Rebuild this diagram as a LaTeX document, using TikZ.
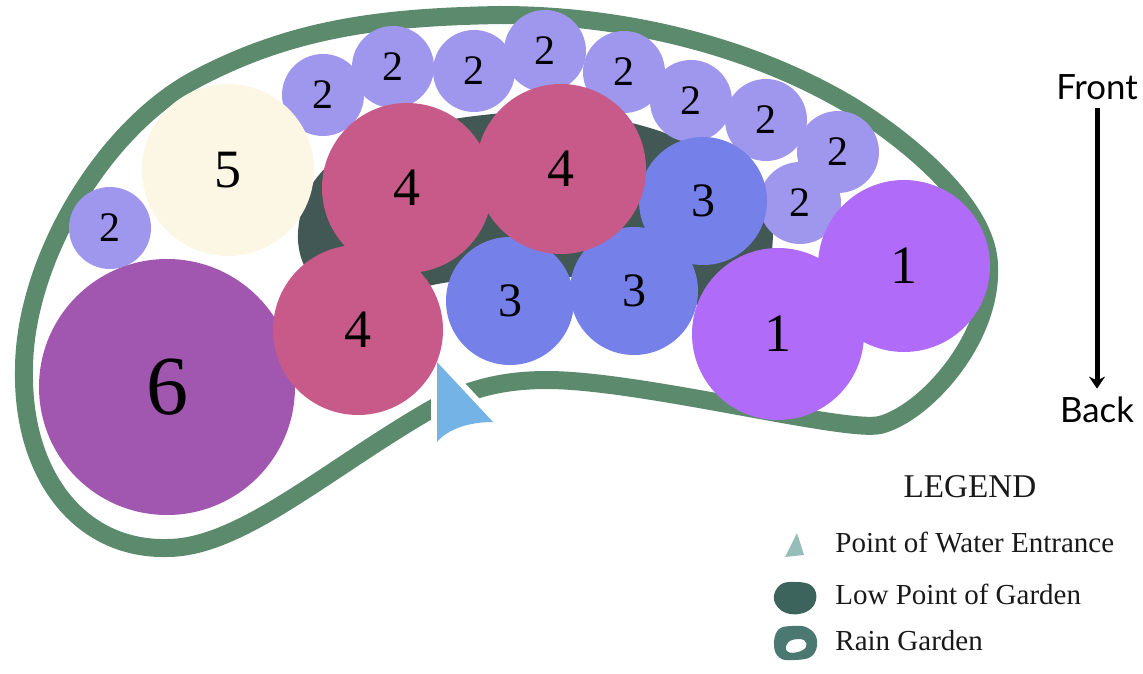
\documentclass[tikz,border=0pt]{standalone}
\usepackage{fontspec}
\setmainfont{Liberation Serif}
\newfontfamily\arrowfont{Lato}
\usetikzlibrary{arrows.meta}

\definecolor{rim}{RGB}{91,139,108}
\definecolor{lowpt}{RGB}{66,88,84}
\definecolor{cOne}{RGB}{176,108,248}
\definecolor{cTwo}{RGB}{159,151,237}
\definecolor{cThree}{RGB}{117,128,232}
\definecolor{cFour}{RGB}{200,90,138}
\definecolor{cFive}{RGB}{251,247,228}
\definecolor{cSix}{RGB}{161,87,176}
\definecolor{water}{RGB}{116,179,229}
\definecolor{iconTri}{RGB}{150,190,185}
\definecolor{iconLow}{RGB}{60,100,92}
\definecolor{iconRim}{RGB}{75,120,112}

\tikzset{
  plant/.style={circle, inner sep=0pt, text=black},
  one/.style={plant, fill=cOne, minimum size=86pt, font=\fontsize{27}{27}\selectfont},
  two/.style={plant, fill=cTwo, minimum size=41pt, font=\fontsize{21}{21}\selectfont},
  three/.style={plant, fill=cThree, minimum size=64pt, font=\fontsize{24}{24}\selectfont},
  four/.style={plant, fill=cFour, minimum size=85pt, font=\fontsize{27}{27}\selectfont},
  five/.style={plant, fill=cFive, minimum size=86pt, font=\fontsize{27}{27}\selectfont},
  six/.style={plant, fill=cSix, minimum size=128pt, font=\fontsize{42}{42}\selectfont},
  legendtext/.style={anchor=base west, inner sep=0pt, text=black!90, font=\fontsize{14.5}{14.5}\selectfont},
  direction/.style={inner sep=4pt, font=\arrowfont\fontsize{17.4}{17.4}\selectfont}
}

\begin{document}
\begin{tikzpicture}[x=0.5pt,y=-0.5pt]
\useasboundingbox (0,0) rectangle (1143,673);

\draw[rim, line width=9pt, line join=round]
  (24,370) .. controls (24,260) and (105,125) .. (200,77)
  .. controls (298,26) and (390,17) .. (500,15)
  .. controls (620,15) and (747,44) .. (850,105)
  .. controls (915,145) and (989,210) .. (989,267)
  .. controls (992,340) and (924,414) .. (880,425)
  .. controls (845,433) and (640,380) .. (547,380)
  .. controls (500,380) and (465,390) .. (430,410)
  .. controls (326,470) and (240,548) .. (167,548)
  .. controls (80,550) and (22,475) .. (24,370) -- cycle;

\draw[white, line width=6pt, line join=round]
  (437,362) -- (493,422) .. controls (467,422) and (447,430) .. (437,442) -- cycle;
\fill[water]
  (437,362) -- (493,422) .. controls (467,422) and (447,430) .. (437,442) -- cycle;

\fill[lowpt] plot[smooth cycle, tension=0.6] coordinates {
  (298,240) (315,180) (370,140) (460,118) (560,112) (650,128) (720,160)
  (765,200) (772,250) (755,295) (700,305) (620,285) (540,275) (450,282)
  (380,295) (320,285)};

\node[two] (Two1) at (110,228) {2};
\node[two] (Two2) at (323,95) {2};
\node[two] (Two3) at (393,67) {2};
\node[two] (Two4) at (474,71) {2};
\node[two] (Two5) at (545,51) {2};
\node[two] (Two6) at (624,72) {2};
\node[two] (Two7) at (691,101) {2};
\node[two] (Two8) at (766,120) {2};
\node[two] (Two9) at (838,152) {2};
\node[two] (Two10) at (800,203) {2};

\node[five] (Five) at (228,170) {5};
\node[six] (Six) at (167,387) {6};

\node[three] (Three1) at (510,301) {3};
\node[three] (Three2) at (634,291) {3};
\node[three] (Three3) at (703,201) {3};

\node[four] (Four1) at (407,188) {4};
\node[four] (Four2) at (561,169) {4};
\node[four] (Four3) at (358,330) {4};

\node[one] (One1) at (778,334) {1};
\node[one] (One2) at (904,266) {1};

\node[direction] (Front) at (1097,87) {Front};
\node[direction] (Back) at (1097,410) {Back};
\draw[line width=2.5pt, -{Stealth[length=6pt,width=8pt,inset=2pt]}] (Front) -- (Back);

\node[anchor=base, inner sep=0pt, text=black!90, font=\fontsize{16.6}{16.6}\selectfont] (Legend) at (970,497) {LEGEND};
\fill[iconTri] (785,557) -- (804,555) -- (797,533) -- cycle;
\node[legendtext] (WaterText) at (835,552) {Point of Water Entrance};
\fill[iconLow] plot[smooth cycle, tension=0.7] coordinates {
  (774,600) (780,585) (796,582) (812,586) (816,600) (806,612) (786,613)};
\node[legendtext] (LowText) at (835,604) {Low Point of Garden};
\fill[iconRim, even odd rule] plot[smooth cycle, tension=0.7] coordinates {
  (774,646) (778,630) (792,626) (808,628) (817,640) (812,656) (794,660) (780,658)}
  plot[smooth cycle, tension=0.7] coordinates {
  (786,646) (792,640) (804,640) (806,647) (798,652) (788,652)};
\node[legendtext] (RimText) at (835,650) {Rain Garden};
\end{tikzpicture}
\end{document}
